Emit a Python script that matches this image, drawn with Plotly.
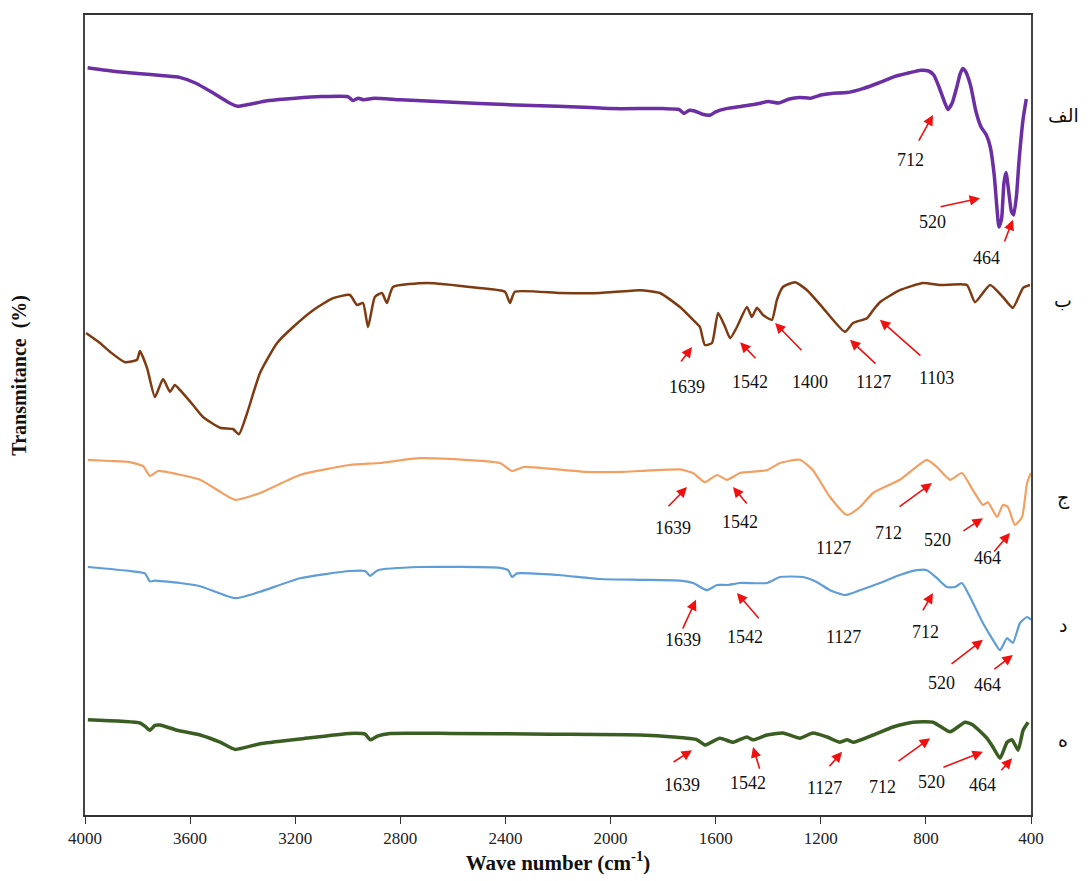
import plotly.graph_objects as go

# FTIR spectra (offset transmittance, arbitrary units) vs wave number (cm-1)
wn_alef = [3990, 3900, 3800, 3700, 3640, 3580, 3520, 3450, 3420, 3380, 3300, 3200, 3100, 3000,
           2980, 2960, 2940, 2900, 2800, 2600, 2400, 2200, 2000, 1800, 1740, 1720, 1700, 1680,
           1650, 1620, 1600, 1560, 1500, 1440, 1400, 1360, 1320, 1280, 1240, 1200, 1160, 1100,
           1040, 980, 920, 860, 820, 790, 770, 750, 730, 716, 700, 680, 670, 660, 650, 630, 610,
           590, 570, 555, 540, 530, 522, 512, 503, 495, 485, 475, 466, 455, 445, 430, 418]
t_alef = [93.4, 93.0, 92.7, 92.4, 92.2, 91.5, 90.4, 89.0, 88.6, 88.8, 89.3, 89.6, 89.8, 89.8,
          89.3, 89.6, 89.4, 89.6, 89.4, 89.1, 88.8, 88.6, 88.3, 88.3, 88.2, 87.7, 88.1, 88.0,
          87.6, 87.5, 87.9, 88.3, 88.6, 88.9, 89.2, 89.0, 89.5, 89.7, 89.6, 90.0, 90.2, 90.3,
          90.8, 91.5, 92.3, 92.8, 93.1, 93.0, 92.5, 91.0, 89.2, 88.2, 89.0, 91.3, 92.6, 93.3,
          93.0, 91.2, 88.0, 86.0, 85.0, 83.5, 80.0, 76.0, 73.5, 74.5, 79.0, 80.3, 78.0, 75.5,
          75.0, 77.5, 82.0, 87.0, 89.5]

wn_be = [3996, 3943, 3905, 3848, 3802, 3791, 3764, 3734, 3703, 3677, 3658, 3638, 3589, 3551,
         3486, 3437, 3414, 3383, 3334, 3269, 3208, 3132, 3056, 2992, 2965, 2942, 2923, 2897,
         2870, 2851, 2828, 2699, 2508, 2402, 2383, 2364, 2192, 2040, 1888, 1812, 1736, 1686,
         1660, 1641, 1614, 1591, 1564, 1545, 1519, 1481, 1462, 1443, 1420, 1386, 1367, 1344,
         1298, 1252, 1192, 1108, 1077, 1024, 1001, 975, 899, 811, 746, 644, 613, 556, 507,
         469, 430, 404]
t_be = [60.25, 59.0, 57.9, 56.6, 56.9, 58.0, 55.9, 52.25, 54.5, 52.9, 53.75, 53.1, 51.25, 49.75,
        48.4, 48.25, 47.6, 50.25, 55.25, 59.0, 61.0, 63.1, 64.6, 65.0, 63.75, 64.0, 61.0, 64.75,
        65.25, 64.0, 66.0, 66.5, 65.9, 65.4, 64.0, 65.4, 65.25, 65.25, 65.6, 65.25, 63.5, 61.9,
        61.0, 58.75, 59.0, 62.75, 61.0, 59.6, 61.0, 63.5, 62.25, 63.4, 62.5, 61.9, 64.4, 66.0,
        66.6, 65.6, 63.4, 60.4, 61.5, 62.1, 63.1, 64.1, 65.6, 66.5, 66.25, 66.25, 64.1, 66.25,
        64.75, 63.4, 65.9, 66.25]

wn_jim = [3989, 3905, 3829, 3779, 3753, 3722, 3677, 3562, 3486, 3429, 3334, 3182, 2992, 2877,
          2725, 2421, 2375, 2330, 2100, 1950, 1888, 1736, 1686, 1641, 1595, 1557, 1507, 1405,
          1355, 1279, 1230, 1165, 1100, 1051, 1001, 899, 796, 758, 708, 663, 621, 583, 564,
          529, 507, 488, 461, 434, 415, 400]
t_jim = [44.4, 44.25, 44.1, 43.6, 42.4, 43.0, 42.8, 41.9, 40.4, 39.4, 40.25, 42.5, 43.75, 44.0,
         44.6, 44.0, 43.0, 43.5, 42.9, 42.9, 43.0, 43.2, 42.75, 41.6, 42.5, 41.9, 42.75, 43.1,
         44.0, 44.4, 43.1, 39.75, 37.5, 38.5, 40.25, 41.9, 44.4, 43.5, 41.9, 42.75, 40.6,
         38.75, 39.1, 37.25, 38.75, 38.5, 36.25, 37.25, 41.5, 42.75]

wn_dal = [3989, 3829, 3772, 3753, 3734, 3696, 3638, 3562, 3429, 3334, 3182, 2992, 2934, 2915,
          2885, 2725, 2421, 2390, 2375, 2356, 2200, 2040, 1888, 1736, 1686, 1633, 1595, 1557,
          1507, 1405, 1355, 1268, 1214, 1165, 1108, 1051, 975, 899, 834, 796, 758, 720, 689,
          663, 632, 583, 545, 518, 491, 469, 442, 415, 400]
t_dal = [31.0, 30.5, 30.2, 29.2, 29.3, 29.2, 29.0, 28.6, 27.1, 27.9, 29.6, 30.5, 30.5, 29.9,
         30.6, 31.0, 30.9, 30.6, 29.75, 30.2, 30.0, 29.5, 29.4, 29.3, 29.0, 28.1, 28.75, 28.75,
         29.0, 29.0, 29.75, 29.75, 29.1, 28.1, 27.5, 28.1, 29.0, 30.0, 30.6, 30.6, 29.6, 28.5,
         28.5, 29.0, 27.25, 24.0, 21.9, 20.6, 22.1, 21.5, 24.0, 24.75, 24.4]

wn_he = [3989, 3791, 3772, 3753, 3734, 3715, 3650, 3562, 3486, 3429, 3334, 3182, 2992, 2934,
         2915, 2885, 2839, 2611, 2230, 1888, 1762, 1671, 1641, 1584, 1534, 1481, 1458, 1405,
         1344, 1279, 1230, 1176, 1127, 1100, 1077, 1001, 925, 849, 773, 708, 651, 621, 568,
         545, 518, 491, 472, 449, 430, 411]
t_he = [11.9, 11.5, 11.1, 10.6, 11.2, 11.25, 10.6, 10.0, 9.1, 8.2, 8.9, 9.5, 10.2, 10.1,
        9.4, 9.9, 10.2, 10.2, 10.1, 10.0, 9.75, 9.4, 8.75, 9.6, 9.1, 9.75, 9.4, 10.0, 10.25,
        9.6, 10.25, 9.75, 9.1, 9.4, 9.1, 10.0, 11.0, 11.6, 11.6, 10.4, 11.6, 11.25, 9.6, 8.5,
        7.1, 9.1, 9.4, 8.1, 10.6, 11.6]

series_names = ["الف", "ب", "ج", "د", "ه"]
series_colors = ["#6B2FA3", "#7E3A10", "#F2A062", "#5E9DD6", "#3A5E22"]
series_widths = [3.5, 2.5, 2.2, 2.2, 3.5]
series_wn = [wn_alef, wn_be, wn_jim, wn_dal, wn_he]
series_t = [t_alef, t_be, t_jim, t_dal, t_he]
name_levels = [87.5, 64.4, 39.75, 23.75, 9.4]

# Peak annotations: label text, label position, arrow tail, arrow head
peak_text = ["712", "520", "464",
             "1639", "1542", "1400", "1127", "1103",
             "1639", "1542", "1127", "712", "520", "464",
             "1639", "1542", "1127", "712", "520", "464",
             "1639", "1542", "1127", "712", "520", "464"]
label_wn = [860, 773, 568,
            1709, 1469, 1241, 1001, 758,
            1762, 1507, 1153, 944, 754, 564,
            1724, 1488, 1115, 803, 739, 564,
            1728, 1477, 1184, 967, 777, 583]
label_t = [81.9, 74.1, 69.6,
           53.5, 54.1, 54.1, 54.1, 54.6,
           35.9, 36.6, 33.4, 35.25, 34.4, 32.1,
           21.9, 22.25, 22.25, 22.9, 16.5, 16.25,
           3.75, 4.0, 3.4, 3.5, 4.1, 3.75]
tail_wn = [830, 750, 503,
           1736, 1443, 1268, 986, 815,
           1785, 1477, None, 906, 663, 545,
           1728, 1431, None, 815, 708, 545,
           1766, 1431, 1172, 910, 739, 518]
tail_t = [84.1, 76.0, 71.5,
          56.5, 56.9, 57.9, 56.25, 57.25,
          38.4, 38.75, None, 38.4, 35.4, 32.75,
          23.1, 24.4, None, 25.4, 18.75, 18.1,
          6.5, 5.6, 5.9, 6.6, 5.9, 5.4]
head_wn = [773, 594, 469,
           1690, 1507, 1374, 1089, 975,
           1709, 1534, None, 777, 583, 480,
           1675, 1519, None, 773, 583, 469,
           1690, 1458, 1119, 784, 583, 472]
head_t = [87.5, 77.1, 74.4,
          58.5, 59.1, 61.5, 59.4, 61.9,
          41.0, 41.0, None, 41.5, 37.1, 35.25,
          26.9, 27.75, None, 27.75, 21.9, 20.0,
          8.1, 8.5, 7.9, 9.6, 7.9, 7.1]

x_ticks = [4000, 3600, 3200, 2800, 2400, 2000, 1600, 1200, 800, 400]

serif = "Liberation Serif, Times New Roman, serif"

fig = go.Figure()
for wn, t, c, w, n in zip(series_wn, series_t, series_colors, series_widths, series_names):
    fig.add_trace(go.Scatter(x=wn, y=t, mode="lines", name=n,
                             line=dict(color=c, width=w, shape="spline", smoothing=0.5)))

annotations = []
for txt, lx, ly in zip(peak_text, label_wn, label_t):
    annotations.append(dict(x=lx, y=ly, xref="x", yref="y", text=txt, showarrow=False,
                            font=dict(family=serif, size=18, color="#111")))
for tx, ty, hx, hy in zip(tail_wn, tail_t, head_wn, head_t):
    if tx is None:
        continue
    annotations.append(dict(x=hx, y=hy, ax=tx, ay=ty, xref="x", yref="y",
                            axref="x", ayref="y", text="", showarrow=True,
                            arrowhead=2, arrowsize=1.3, arrowwidth=1.6,
                            arrowcolor="#F01010"))
for n, lvl in zip(series_names, name_levels):
    annotations.append(dict(x=1.034, y=lvl, xref="paper", yref="y", text=n,
                            showarrow=False, xanchor="center",
                            font=dict(family="DejaVu Sans, sans-serif", size=19, color="#111")))
# Rotated y-axis caption
annotations.append(dict(x=-0.069, y=0.55, xref="paper", yref="paper",
                        text="<b>Transmitance  (%)</b>", textangle=-90, showarrow=False,
                        xanchor="center", yanchor="middle",
                        font=dict(family=serif, size=20, color="#111")))

fig.update_layout(
    width=1092, height=881,
    margin=dict(l=85, r=61, t=15, b=66),
    paper_bgcolor="white", plot_bgcolor="white",
    showlegend=False,
    annotations=annotations,
    xaxis=dict(range=[4000, 400], tickvals=x_ticks, ticktext=[str(v) for v in x_ticks],
               ticks="outside", ticklen=7, tickwidth=1.2, tickcolor="#333",
               showline=True, linecolor="#333", linewidth=1.5, mirror=True,
               showgrid=False, zeroline=False,
               tickfont=dict(family=serif, size=17, color="#222"),
               title=dict(text="<b>Wave number (cm<sup>-1</sup>)</b>",
                          font=dict(family=serif, size=21, color="#111"), standoff=6)),
    yaxis=dict(range=[0, 100], showticklabels=False, ticks="",
               showline=True, linecolor="#444", linewidth=1.5, mirror=True,
               showgrid=False, zeroline=False),
)

fig.write_html("out.html")
